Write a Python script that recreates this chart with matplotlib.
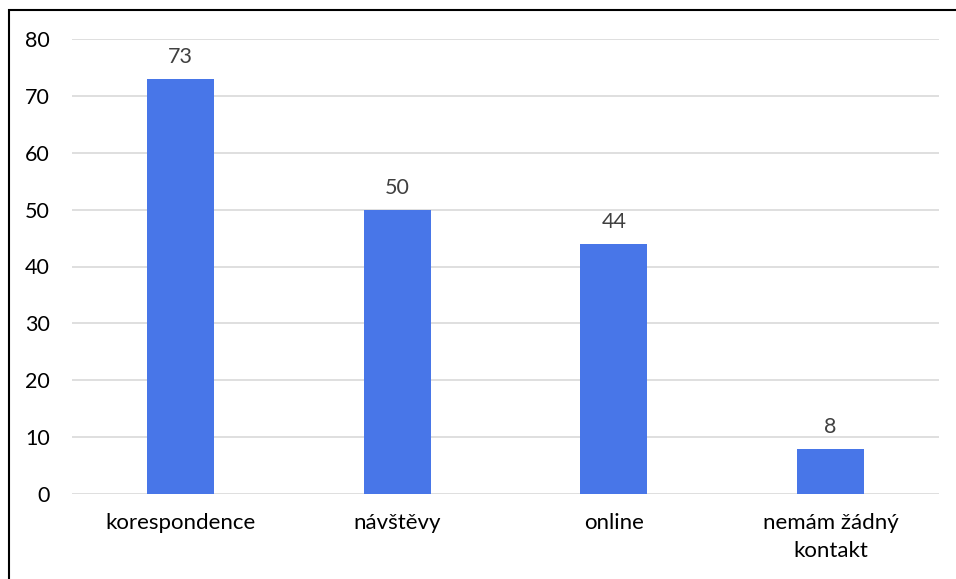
import matplotlib
matplotlib.use("Agg")
import matplotlib.pyplot as plt
from matplotlib.patches import Rectangle

# data
categories = ["korespondence", "návštěvy", "online", "nemám žádný\nkontakt"]
values = [73, 50, 44, 8]
yticks = [0, 10, 20, 30, 40, 50, 60, 70, 80]

plt.rcParams['font.family'] = ['Lato', 'DejaVu Sans']

W, H = 956, 579
fig = plt.figure(figsize=(W / 100, H / 100), dpi=100)
ax = fig.add_axes([72 / W, (H - 494) / H, (939 - 72) / W, (494 - 39) / H])

x = range(len(categories))
bars = ax.bar(x, values, width=0.31, color="#4876E8", zorder=3)
for b, v in zip(bars, values):
    ax.text(b.get_x() + b.get_width() / 2, v + 2.0, str(v), ha="center", va="bottom",
            fontsize=15.5, color="#404040")

ax.set_xlim(-0.5, len(categories) - 0.5)
ax.set_ylim(0, 80)
ax.set_yticks(yticks)
ax.set_xticks(list(x))
ax.set_xticklabels(categories, fontsize=16, color="black", linespacing=1.45)
ax.tick_params(axis="y", labelsize=15.5, colors="black", length=0, pad=16)
ax.tick_params(axis="x", length=0, pad=14)
ax.grid(axis="y", color="#D9D9D9", linewidth=1.2, zorder=0)
for s in ax.spines.values():
    s.set_visible(False)

# outer frame (left and top edges visible)
fig.patches.append(Rectangle((8.5 / W, -0.1), 1.2, (H - 10) / H + 0.1,
                             transform=fig.transFigure, fill=False,
                             edgecolor="black", linewidth=1.5))

fig.savefig("out.png", dpi=100)
